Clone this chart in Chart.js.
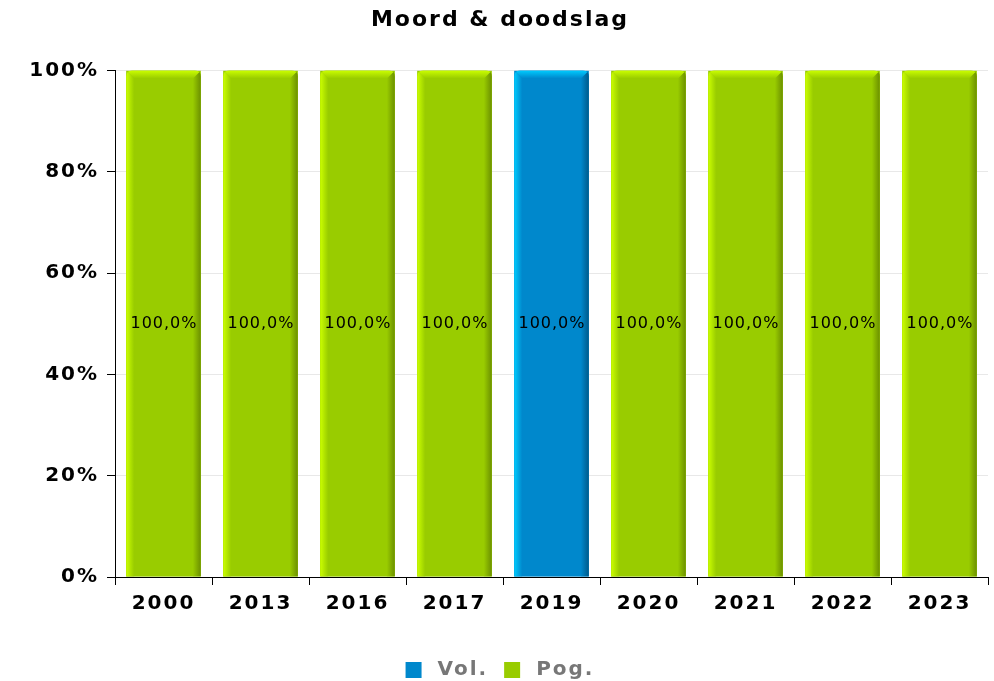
<!DOCTYPE html>
<html>
<head>
  <meta charset="utf-8">
  <script src="https://cdn.jsdelivr.net/npm/chart.js@4/dist/chart.umd.min.js"></script>
  <style>
    html, body { margin: 0; padding: 0; background: #fff; }
  </style>
</head>
<body>
  <canvas id="chart" width="994" height="681"></canvas>
  <script>
    // data
    const years = ["2000", "2013", "2016", "2017", "2019", "2020", "2021", "2022", "2023"];
    const vol = [0, 0, 0, 0, 100, 0, 0, 0, 0];
    const pog = [100, 100, 100, 100, 0, 100, 100, 100, 100];
    const yTicks = [0, 20, 40, 60, 80, 100];

    // bevel shades per series: bright, mid, dark
    const shades = [
      ["#00ccff", "#0088cc", "#005a8a"],
      ["#ccff00", "#99cc00", "#6b8f00"]
    ];

    // slightly wide lettering like the original
    const spacing = {
      id: "spacing",
      beforeLayout(chart) { chart.ctx.letterSpacing = "2px"; },
      beforeDraw(chart) { chart.ctx.letterSpacing = "2px"; }
    };

    // draws the beveled look over the bars
    const bevel = {
      id: "bevel",
      afterDatasetsDraw(chart) {
        const ctx = chart.ctx;
        chart.data.datasets.forEach(function(ds, i) {
          const meta = chart.getDatasetMeta(i);
          const s = shades[i];
          meta.data.forEach(function(bar) {
            const h = bar.base - bar.y;
            if (h <= 0) return;
            const L = bar.x - bar.width / 2, R = bar.x + bar.width / 2;
            const T = bar.y, B = bar.base;
            const b = 8, r = 6;
            ctx.save();
            ctx.beginPath();
            ctx.moveTo(L, B);
            ctx.lineTo(L, T + r);
            ctx.quadraticCurveTo(L, T, L + r, T);
            ctx.lineTo(R - r, T);
            ctx.quadraticCurveTo(R, T, R, T + r);
            ctx.lineTo(R, B);
            ctx.closePath();
            ctx.clip();
            // body
            ctx.fillStyle = s[1];
            ctx.fillRect(L, T, R - L, B - T);
            // left band
            let g = ctx.createLinearGradient(L, 0, L + b, 0);
            g.addColorStop(0, s[0]);
            g.addColorStop(1, s[1]);
            ctx.fillStyle = g;
            ctx.beginPath();
            ctx.moveTo(L, T); ctx.lineTo(L + b, T + b); ctx.lineTo(L + b, B); ctx.lineTo(L, B);
            ctx.closePath(); ctx.fill();
            // right band
            g = ctx.createLinearGradient(R - b, 0, R, 0);
            g.addColorStop(0, s[1]);
            g.addColorStop(1, s[2]);
            ctx.fillStyle = g;
            ctx.beginPath();
            ctx.moveTo(R, T); ctx.lineTo(R - b, T + b); ctx.lineTo(R - b, B); ctx.lineTo(R, B);
            ctx.closePath(); ctx.fill();
            // top band
            g = ctx.createLinearGradient(0, T, 0, T + b);
            g.addColorStop(0, s[0]);
            g.addColorStop(1, s[1]);
            ctx.fillStyle = g;
            ctx.beginPath();
            ctx.moveTo(L, T); ctx.lineTo(R, T); ctx.lineTo(R - b, T + b); ctx.lineTo(L + b, T + b);
            ctx.closePath(); ctx.fill();
            ctx.restore();
          });
        });
      }
    };

    // value labels in the middle of each bar
    const barLabels = {
      id: "barLabels",
      afterDatasetsDraw(chart) {
        const ctx = chart.ctx;
        ctx.save();
        ctx.letterSpacing = "1px";
        ctx.font = "16px 'DejaVu Sans'";
        ctx.fillStyle = "#000";
        ctx.textAlign = "center";
        ctx.textBaseline = "middle";
        chart.data.datasets.forEach(function(ds, i) {
          chart.getDatasetMeta(i).data.forEach(function(bar, j) {
            const v = ds.data[j];
            if (!v) return;
            ctx.fillText(v.toFixed(1).replace(".", ",") + "%", bar.x + 0.5, (bar.y + bar.base) / 2);
          });
        });
        ctx.restore();
      }
    };

    new Chart(document.getElementById("chart"), {
      type: "bar",
      data: {
        labels: years,
        datasets: [
          { label: "Vol.", data: vol, backgroundColor: "#0088cc" },
          { label: "Pog.", data: pog, backgroundColor: "#99cc00" }
        ]
      },
      options: {
        responsive: false,
        animation: false,
        layout: { padding: { left: 12, right: 6, top: 0, bottom: -9 } },
        datasets: { bar: { barPercentage: 0.77, categoryPercentage: 1 } },
        plugins: {
          title: {
            display: true,
            text: "Moord & doodslag",
            color: "#000",
            font: { family: "DejaVu Sans", size: 22, weight: "bold" },
            padding: { top: 7, bottom: 37 }
          },
          legend: {
            position: "bottom",
            labels: {
              boxWidth: 16,
              boxHeight: 16,
              color: "#777",
              font: { family: "DejaVu Sans", size: 20, weight: "bold" },
              padding: 16,
              generateLabels: function(chart) {
                return Chart.defaults.plugins.legend.labels.generateLabels(chart).map(function(l) {
                  l.text = "\u2009" + l.text;
                  return l;
                });
              }
            }
          },
          tooltip: { enabled: false }
        },
        scales: {
          x: {
            stacked: true,
            grid: { drawOnChartArea: false, tickColor: "#000", tickLength: 8, offset: true },
            border: { color: "#000", width: 1 },
            ticks: { color: "#000", maxRotation: 0, font: { family: "DejaVu Sans", size: 20, weight: "bold" }, padding: 7 },
            afterFit: function(axis) { axis.height = 67; }
          },
          y: {
            stacked: true,
            min: 0,
            max: 100,
            afterBuildTicks: function(axis) { axis.ticks = yTicks.map(function(v) { return { value: v }; }); },
            afterFit: function(axis) { axis.width = 103; },
            grid: { color: "#e8e8e8", tickColor: "#000", tickLength: 8 },
            border: { color: "#000", width: 1 },
            ticks: {
              color: "#000",
              font: { family: "DejaVu Sans", size: 20, weight: "bold" },
              padding: 8,
              callback: function(v) { return v + "%"; }
            }
          }
        }
      },
      plugins: [spacing, bevel, barLabels]
    });
  </script>
</body>
</html>
